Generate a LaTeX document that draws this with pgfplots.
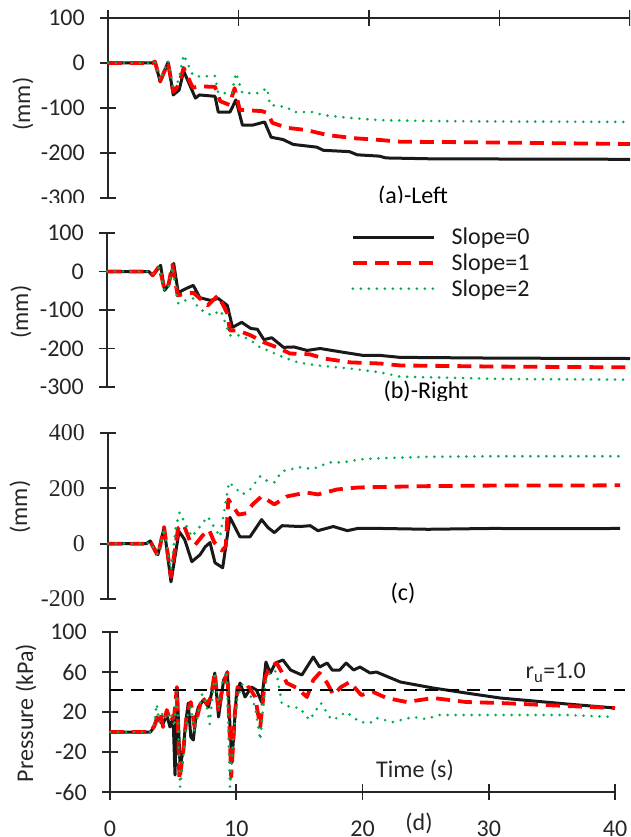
\documentclass[border=0pt]{standalone}
\usepackage{pgfplots}
\pgfplotsset{compat=1.18}
\usepackage{fontspec}
\setmainfont{Carlito}
\newfontfamily\serifnum{Liberation Serif}
\definecolor{axgray}{RGB}{38,38,38}
\definecolor{sgreen}{RGB}{0,176,80}
\newcommand{\bigf}{\fontsize{24}{28}\selectfont}
\pgfplotsset{
  common/.style={
    scale only axis, xmin=0, xmax=40, clip=false,
    tick align=center, major tick length=16pt,
    tick style={line width=1.8pt, color=axgray},
    yticklabel style={font=\bigf, text=axgray, inner sep=0pt, anchor=east, xshift=-15pt},
    xticklabel style={font=\bigf, text=axgray, inner sep=0pt},
  },
  noarrows/.style={
    axis line style={-, line width=1.8pt, color=axgray},
    x axis line style={-}, y axis line style={-},
  },
  s0/.style={line width=3pt, color=black!90, line join=round},
  s1/.style={line width=3.8pt, color=red, dash pattern=on 14pt off 8pt, line join=round},
  s2/.style={line width=2.9pt, color=sgreen, dash pattern=on 0pt off 8pt, line cap=round},
}
\begin{document}
\begin{tikzpicture}[x=1pt,y=1pt]
\path[use as bounding box] (0,0) rectangle (630,-837);
% ---------------- panel (a)
\begin{scope}
\clip (0,0) rectangle (630,-202);
\begin{axis}[common, at={(108pt,-198pt)}, anchor=south west, width=522pt, height=180pt,
  ymin=-300, ymax=100, axis x line=top, axis y line=left, noarrows,
  xtick={0,10,20,30,40}, xticklabels={},
  ytick={-300,-200,-100,0,100}, yticklabels={-300,-200,-100,0,100}]
\addplot[s0] coordinates {(0,0) (3.4,0) (3.6,3) (4.0,-42) (4.6,2) (5.0,-71) (5.45,-60) (5.8,-18) (6.7,-78) (7.0,-71) (8.2,-74) (8.45,-109) (9.35,-109) (9.8,-82) (10.3,-138) (11.1,-138) (12.0,-131) (12.5,-165) (13.4,-170) (14.2,-181) (16.0,-187) (16.5,-194) (18.5,-197) (19.1,-204) (20.8,-207) (21.3,-211) (24.9,-213) (40,-214)};
\addplot[s1] coordinates {(0,0) (3.4,0) (3.6,3) (4.0,-40) (4.6,0) (5.0,-64) (5.4,-50) (5.8,-11) (6.5,-55) (7.0,-52) (8.2,-53) (8.6,-85) (9.3,-93) (9.7,-56) (10.1,-104) (11.8,-107) (12.2,-111) (12.6,-133) (13.7,-144) (15.2,-149) (16.8,-160) (18.8,-167) (20.8,-171) (22.4,-175) (27.5,-176) (40,-180)};
\addplot[s2] coordinates {(0,0) (3.4,0) (3.6,3) (4.0,-38) (4.6,4) (5.0,-53) (5.4,-40) (5.8,18) (6.5,-27) (7.0,-30) (8.2,-29) (8.45,-67) (9.5,-67) (9.8,-22) (10.3,-67) (11.5,-67) (12.2,-56) (12.4,-93) (13.7,-98) (14.2,-109) (15.7,-109) (16.5,-116) (18.5,-122) (20.8,-127) (25,-129) (30,-130) (40,-131)};
\end{axis}
\node[font=\bigf] at (413,-196) {(a)-Left};
\end{scope}
% ---------------- panel (b)
\begin{scope}
\clip (0,-202) rectangle (630,-400);
\begin{axis}[common, at={(107pt,-387pt)}, anchor=south west, width=523pt, height=154pt,
  ymin=-300, ymax=100, axis x line=none, axis y line=left, noarrows,
  ytick={-300,-200,-100,0,100}, yticklabels={-300,-200,-100,0,100},
  legend image code/.code={\draw[#1] (0pt,0pt) -- (81pt,0pt);},
  legend style={draw=none, fill=none, font=\bigf, inner sep=0pt, row sep=7.5pt,
    legend cell align=left, at={(rel axis cs:0.466,1.032)}, anchor=north west,
    /tikz/every odd column/.append style={column sep=16pt},
    /tikz/every even column/.append style={column sep=0pt},
    nodes={inner sep=0pt, text=black!90}}]
\addplot[s0] coordinates {(0,0) (3.2,0) (3.5,-10) (4.1,16) (4.4,-49) (4.7,-36) (5.1,21) (5.45,-55) (6.0,-45) (6.6,-36) (7.1,-68) (7.9,-75) (8.5,-70) (9.2,-88) (9.6,-145) (10.3,-132) (11.0,-148) (11.5,-150) (12.0,-177) (12.6,-172) (13.5,-197) (14.3,-196) (15.3,-205) (16.3,-200) (17.2,-205) (18.1,-210) (19.6,-218) (20.9,-218) (22.4,-223) (30,-225) (40,-226)};
\addlegendentry{Slope=0}
\addplot[s1] coordinates {(0,0) (3.2,0) (3.5,-10) (4.0,14) (4.4,-48) (4.7,-35) (5.0,18) (5.4,-62) (6.0,-58) (6.6,-55) (7.7,-88) (8.5,-62) (9.2,-109) (9.4,-153) (10.0,-153) (11.0,-166) (12.0,-184) (13.0,-197) (14.0,-213) (15.5,-215) (16.6,-226) (18.6,-236) (20.9,-239) (22.4,-244) (30,-247) (40,-249)};
\addlegendentry{Slope=1}
\addplot[s2] coordinates {(0,0) (3.2,0) (3.5,-8) (4.0,12) (4.4,-50) (4.7,-40) (5.0,12) (5.45,-83) (6.0,-75) (6.6,-70) (7.0,-96) (8.0,-114) (8.7,-101) (9.4,-166) (10.2,-166) (11.0,-179) (11.7,-197) (12.3,-205) (13.5,-223) (14.6,-236) (16.1,-244) (18.6,-252) (20.9,-262) (22.4,-273) (30,-279) (40,-281)};
\addlegendentry{Slope=2}
\end{axis}
\node[font=\bigf] at (426,-392) {(b)-Right};
\end{scope}
% ---------------- panel (c)
\begin{axis}[common, at={(108pt,-599pt)}, anchor=south west, width=512pt, height=166pt,
  ymin=-200, ymax=400, axis x line=none, axis y line=left, noarrows,
  ytick={-200,0,200,400}, yticklabels={-200,0,200,400},
  yticklabel style={font=\serifnum\bigf}]
\addplot[s0] coordinates {(0,0) (3.0,0) (3.3,10) (3.9,-40) (4.38,58) (4.92,-138) (5.55,44) (5.99,15) (6.55,-65) (7.19,-40) (7.6,-11) (7.97,4) (8.36,-69) (8.96,-87) (9.53,95) (10.3,25) (11.1,25) (12.0,87) (12.5,58) (13.0,40) (13.6,65) (15.0,62) (15.8,65) (16.4,47) (17.6,62) (18.7,47) (19.5,55) (21.3,55) (25,52) (30,55) (35,54) (40,55)};
\addplot[s1] coordinates {(0,0) (3.0,0) (3.3,8) (3.9,-45) (4.38,60) (4.92,-120) (5.47,55) (5.9,70) (6.4,10) (6.8,-5) (7.4,30) (7.9,50) (8.3,5) (8.9,-25) (9.2,-10) (9.4,160) (10.2,105) (10.8,110) (11.3,142) (12.0,171) (13.0,142) (14.0,171) (15.5,185) (16.4,178) (17.9,196) (19.5,203) (21.3,205) (25,208) (30,210) (35,210) (40,211)};
\addplot[s2] coordinates {(0,0) (3.0,0) (3.3,5) (3.9,-40) (4.38,55) (4.92,-95) (5.3,60) (5.6,113) (6.55,25) (7.8,98) (8.75,25) (9.45,222) (10.5,178) (11.1,196) (11.9,244) (12.5,225) (13.0,222) (13.6,262) (15.0,276) (16.0,270) (17.3,294) (18.4,294) (19.7,305) (21.3,309) (25,314) (30,316) (35,316) (40,316)};
\end{axis}
\node[font=\bigf] at (403,-593) {(c)};
% ---------------- panel (d)
\begin{axis}[common, at={(110pt,-792pt)}, anchor=south west, width=505pt, height=160pt,
  ymin=-60, ymax=100, axis x line=bottom, axis y line=left, noarrows,
  xtick={0,10,20,30,40}, xticklabels={0,10,20,30,40},
  xticklabel style={anchor=north, yshift=-21pt},
  ytick={-60,-20,20,60,100}, yticklabels={-60,-20,20,60,100}]
\addplot[s0] coordinates {(0,0) (3.2,0) (3.5,5) (3.7,15) (4.0,10) (4.2,8) (4.5,17) (4.75,5) (5.0,14) (5.15,-43) (5.33,42) (5.55,-35) (5.8,-18) (6.0,10) (6.2,29) (6.4,-5) (6.6,-8) (6.8,15) (7.0,25) (7.4,32) (7.8,25) (8.05,39) (8.3,59) (8.6,15) (9.0,52) (9.3,59) (9.65,-31) (10.0,35) (10.3,49) (10.7,35) (11.2,45) (11.6,42) (12.0,30) (12.35,70) (12.7,59) (13.1,69) (13.7,72) (14.3,62) (15.2,57) (16.1,75) (16.6,65) (17.2,69) (17.6,62) (18.2,62) (18.7,69) (19.3,62) (19.8,65) (20.6,59) (21.1,60) (23.0,50) (25.6,44) (28.2,39) (30.9,34) (36.2,28) (40,24)};
\addplot[s1] coordinates {(0,0) (3.2,0) (3.5,6) (3.7,12) (4.0,20) (4.2,5) (4.5,22) (4.8,10) (5.1,18) (5.3,45) (5.5,-48) (5.8,-20) (6.1,20) (6.4,30) (6.7,5) (7.0,20) (7.3,35) (7.7,28) (8.0,35) (8.3,60) (8.6,20) (8.9,45) (9.3,60) (9.6,-45) (9.9,20) (10.1,45) (10.5,40) (11.0,45) (11.5,35) (11.9,5) (12.3,55) (12.67,65) (13.2,69) (13.6,60) (14.0,49) (14.8,44) (15.6,35) (16.1,52) (16.6,59) (17.2,49) (17.7,37) (18.3,45) (19.0,50) (19.9,37) (20.85,40) (21.9,34) (23.5,30) (25.6,34) (28.2,30) (30.9,29) (36.2,26) (40,24)};
\addplot[s2] coordinates {(0,0) (3.2,0) (3.5,8) (3.7,28) (3.9,10) (4.2,20) (4.5,12) (4.8,20) (5.1,5) (5.3,45) (5.55,-55) (5.8,-25) (6.1,15) (6.4,25) (6.7,0) (7.0,20) (7.3,38) (7.6,30) (7.9,8) (8.3,60) (8.6,25) (8.9,50) (9.25,61) (9.5,-55) (9.8,0) (10.1,35) (10.5,48) (11.0,40) (11.5,25) (11.9,-8) (12.3,49) (12.67,59) (13.06,62) (13.3,52) (13.6,29) (14.25,25) (15.04,24) (15.8,12) (16.7,29) (17.4,15) (17.7,12) (18.7,20) (19.8,10) (20.6,9) (21.1,14) (22.4,10) (24,15) (25,13) (26.1,17) (30.9,17) (36.2,17) (40,15)};
\addplot[line width=2.8pt, color=black, dash pattern=on 13pt off 8pt] coordinates {(0,42) (40.8,42)};
\node[font=\bigf, text=black!85] at (axis cs:35.3,59) {r\textsubscript{u}=1.0};
\end{axis}
\node[font=\bigf, text=black!85] at (415,-770) {Time (s)};
\node[font=\bigf, text=black!85] at (419,-823) {(d)};
% ---------------- y labels
\node[font=\bigf, rotate=90, text=black!85] at (23,-104) {(mm)};
\node[font=\bigf, rotate=90, text=black!85] at (21,-312) {(mm)};
\node[font=\bigf, rotate=90, text=black!85] at (20,-507) {(mm)};
\node[font=\bigf, rotate=90, text=black!85] at (26,-713) {Pressure (kPa)};
\end{tikzpicture}
\end{document}
